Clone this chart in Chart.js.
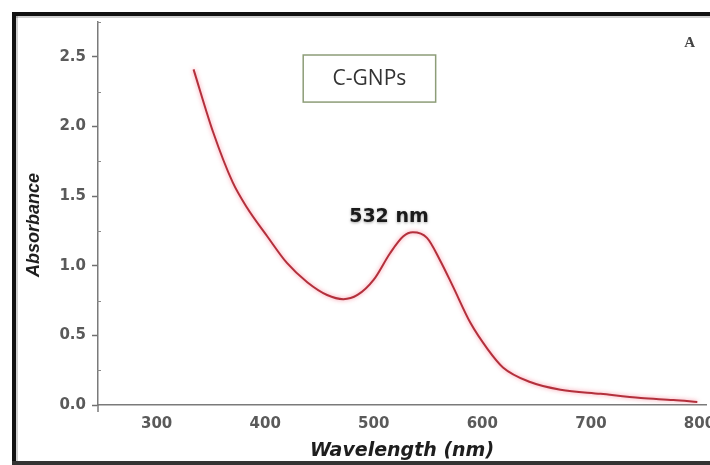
<!DOCTYPE html>
<html><head><meta charset="utf-8">
<script src="https://cdn.jsdelivr.net/npm/chart.js@4"></script>
<style>html,body{margin:0;padding:0;background:#fff;}#wrap{width:710px;height:465px;position:relative;}</style>
</head><body><div id="wrap"><canvas id="c" width="710" height="465"></canvas></div>
<script>
// ---- data ----
const wavelengths = [334, 352, 370, 383, 402, 420, 439, 457, 472, 485, 500, 515, 527, 536, 549, 561, 573, 589, 605, 619, 644, 672, 709, 746, 776, 798];
const absorbance  = [2.41, 1.96, 1.60, 1.42, 1.21, 1.02, 0.88, 0.79, 0.76, 0.79, 0.90, 1.09, 1.21, 1.24, 1.20, 1.04, 0.85, 0.59, 0.40, 0.27, 0.165, 0.11, 0.08, 0.05, 0.036, 0.022];
const xTickValues = [300, 400, 500, 600, 700, 800];
const yTickStep = 0.25;
const seriesName = 'C-GNPs';
const peakLabel = '532 nm';
const panelLetter = 'A';
const xTitle = 'Wavelength (nm)';
const yTitle = 'Absorbance';

// annotation anchors (data coordinates)
const legendBox = {x0: 435, x1: 557, y0: 2.513, y1: 2.175};
const peakText = {x: 514, y: 1.35};
const letterPos = {x: 791, y: 2.60};

const isMajor = v => Math.abs(v / 0.5 - Math.round(v / 0.5)) < 1e-6;

const decor = {
  id: 'decor',
  beforeDraw(chart) {
    const ctx = chart.ctx;
    ctx.save();
    ctx.fillStyle = '#fff';
    ctx.fillRect(0, 0, chart.width, chart.height);
    // frame
    ctx.fillStyle = 'rgba(0,0,0,0.18)';
    ctx.fillRect(16, 16, chart.width - 16, 2);
    ctx.fillRect(16, 16, 2, chart.height - 16);
    ctx.fillStyle = '#111';
    ctx.fillRect(12, 12, chart.width - 12, 4);
    ctx.fillRect(12, 12, 4, chart.height - 12);
    ctx.fillStyle = '#333';
    ctx.fillRect(12, 461, chart.width - 12, 4);
    ctx.restore();
  },
  beforeDatasetDraw(chart) {
    const ctx = chart.ctx;
    ctx.save();
    ctx.shadowColor = 'rgba(245,120,140,0.85)';
    ctx.shadowBlur = 4;
  },
  afterDatasetDraw(chart) {
    chart.ctx.restore();
  },
  afterDraw(chart) {
    const ctx = chart.ctx;
    const xs = chart.scales.x, ys = chart.scales.y;
    ctx.save();
    // minor ticks on the right of the y axis
    ctx.strokeStyle = '#8a8a8a';
    ctx.lineWidth = 1;
    ys.ticks.forEach(t => {
      if (!isMajor(t.value)) {
        const py = Math.round(ys.getPixelForValue(t.value)) + 0.5;
        ctx.beginPath();
        ctx.moveTo(xs.left - 1, py);
        ctx.lineTo(xs.left + 3, py);
        ctx.stroke();
      }
    });
    // y axis stub below the x axis
    ctx.strokeStyle = '#7a7a7a';
    ctx.lineWidth = 1.5;
    ctx.beginPath();
    ctx.moveTo(xs.left, ys.bottom);
    ctx.lineTo(xs.left, ys.bottom + 7);
    ctx.stroke();
    // y title
    ctx.save();
    ctx.translate(34, 225);
    ctx.rotate(-Math.PI / 2);
    ctx.font = 'italic bold 18px "Liberation Sans", Arial, sans-serif';
    ctx.fillStyle = '#1e1e1e';
    ctx.textAlign = 'center';
    ctx.textBaseline = 'middle';
    ctx.fillText(yTitle, 0, 0);
    ctx.restore();
    // legend box
    const bx0 = xs.getPixelForValue(legendBox.x0), bx1 = xs.getPixelForValue(legendBox.x1);
    const by0 = ys.getPixelForValue(legendBox.y0), by1 = ys.getPixelForValue(legendBox.y1);
    ctx.strokeStyle = '#8d9d78';
    ctx.lineWidth = 1.5;
    ctx.strokeRect(bx0, by0, bx1 - bx0, by1 - by0);
    ctx.font = '21px "Open Sans", sans-serif';
    ctx.fillStyle = '#333';
    ctx.textAlign = 'center';
    ctx.textBaseline = 'middle';
    ctx.fillText(seriesName, (bx0 + bx1) / 2, (by0 + by1) / 2);
    // peak label
    ctx.font = 'bold 19px "DejaVu Sans", sans-serif';
    ctx.fillStyle = '#1a1a1a';
    ctx.shadowColor = 'rgba(0,0,0,0.35)';
    ctx.shadowBlur = 3;
    ctx.shadowOffsetY = 1;
    ctx.fillText(peakLabel, xs.getPixelForValue(peakText.x), ys.getPixelForValue(peakText.y));
    ctx.shadowColor = 'transparent';
    // panel letter
    ctx.font = 'bold 15px "Liberation Serif", serif';
    ctx.fillStyle = '#444';
    ctx.fillText(panelLetter, xs.getPixelForValue(letterPos.x), ys.getPixelForValue(letterPos.y));
    ctx.restore();
  }
};

new Chart(document.getElementById('c'), {
  type: 'line',
  data: {
    datasets: [{
      label: seriesName,
      data: wavelengths.map((w, i) => ({x: w, y: absorbance[i]})),
      borderColor: '#b3303c',
      borderWidth: 2,
      pointRadius: 0,
      fill: false,
      cubicInterpolationMode: 'monotone'
    }]
  },
  options: {
    responsive: false,
    animation: false,
    devicePixelRatio: 1,
    layout: {padding: {top: 22, right: 4, left: 0, bottom: 0}},
    plugins: {legend: {display: false}, tooltip: {enabled: false}},
    scales: {
      x: {
        type: 'linear', min: 246, max: 806,
        afterBuildTicks: s => { s.ticks = xTickValues.map(v => ({value: v})); },
        afterFit: s => { s.height = 60; s.paddingLeft = 0; s.paddingRight = 0; },
        grid: {drawOnChartArea: false, drawTicks: false},
        border: {color: '#7a7a7a', width: 1.5},
        ticks: {padding: 10, color: '#5a5a5a', font: {family: '"DejaVu Sans", sans-serif', size: 15, weight: 'bold'}, maxRotation: 0, autoSkip: false},
        title: {display: true, text: xTitle, color: '#1e1e1e', padding: {top: 0, bottom: 3},
                font: {family: '"DejaVu Sans", sans-serif', size: 19, style: 'italic', weight: 'bold'}}
      },
      y: {
        type: 'linear', min: 0, max: 2.75,
        afterFit: s => { s.width = 98; s.paddingTop = 0; s.paddingBottom = 0; },
        grid: {drawOnChartArea: false, drawTicks: true, tickLength: 6, tickWidth: 1.5,
               tickColor: c => (c.tick && isMajor(c.tick.value)) ? '#6f6f6f' : 'rgba(0,0,0,0)'},
        border: {color: '#7a7a7a', width: 1.5},
        ticks: {stepSize: yTickStep, padding: 6, color: '#5a5a5a', autoSkip: false,
                font: {family: '"DejaVu Sans", sans-serif', size: 15, weight: 'bold'},
                callback: v => isMajor(v) ? v.toFixed(1) : ''}
      }
    }
  },
  plugins: [decor]
});
</script>
</body></html>
